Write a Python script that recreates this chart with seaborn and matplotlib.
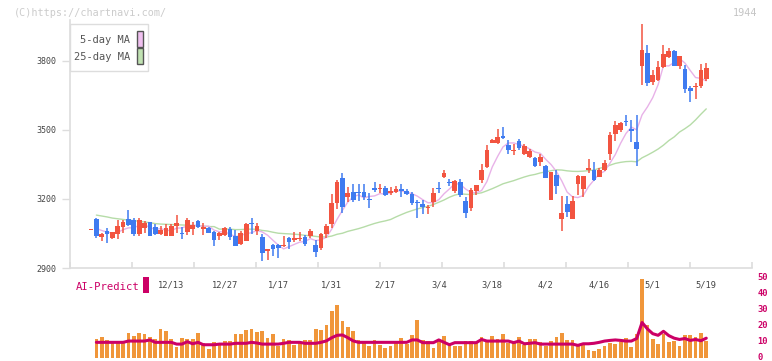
import numpy as np
import pandas as pd
import matplotlib
matplotlib.use("Agg")
import matplotlib.pyplot as plt
import seaborn as sns
from matplotlib.patches import Rectangle

# daily candles (red = close above open)
opens = [3067, 3113, 3036, 3061, 3030, 3046, 3080, 3113, 3109, 3047,
         3074, 3100, 3080, 3048, 3040, 3040, 3083, 3052, 3055, 3070,
         3104, 3070, 3075, 3055, 3041, 3045, 3070, 3039, 3004, 3019,
         3096, 3059, 3036, 2975, 3000, 3001, 2998, 3029, 3020, 3026,
         3036, 3039, 3000, 2988, 3048, 3092, 3181, 3290, 3207, 3230,
         3229, 3229, 3198, 3248, 3244, 3248, 3225, 3232, 3243, 3235,
         3223, 3184, 3180, 3161, 3187, 3248, 3297, 3274, 3235, 3275,
         3191, 3162, 3235, 3283, 3341, 3445, 3445, 3474, 3435, 3410,
         3452, 3394, 3384, 3380, 3362, 3345, 3196, 3304, 3113, 3178,
         3113, 3265, 3245, 3326, 3326, 3297, 3326, 3396, 3484, 3502,
         3540, 3506, 3448, 3776, 3836, 3710, 3718, 3773, 3819, 3845,
         3776, 3766, 3684, 3686, 3691, 3722]
closes = [3069, 3040, 3049, 3046, 3056, 3083, 3100, 3087, 3048, 3109,
          3096, 3040, 3046, 3065, 3075, 3084, 3097, 3050, 3109, 3087,
          3080, 3080, 3054, 3022, 3052, 3075, 3033, 2997, 3052, 3091,
          3093, 3083, 2965, 2981, 2981, 2988, 3000, 3014, 3030, 3030,
          3004, 3061, 2971, 3048, 3084, 3183, 3274, 3166, 3227, 3196,
          3226, 3210, 3196, 3239, 3246, 3216, 3236, 3243, 3233, 3220,
          3184, 3182, 3166, 3165, 3227, 3244, 3313, 3270, 3278, 3217,
          3140, 3239, 3261, 3326, 3413, 3457, 3468, 3467, 3413, 3413,
          3423, 3430, 3409, 3345, 3384, 3293, 3316, 3258, 3140, 3142,
          3191, 3300, 3302, 3335, 3283, 3326, 3356, 3479, 3522, 3531,
          3537, 3494, 3418, 3848, 3703, 3740, 3775, 3830, 3844, 3780,
          3823, 3679, 3668, 3689, 3762, 3770]
highs = [3069, 3117, 3054, 3072, 3058, 3109, 3109, 3152, 3116, 3117,
         3104, 3100, 3093, 3083, 3093, 3093, 3130, 3078, 3119, 3099,
         3108, 3097, 3078, 3062, 3058, 3080, 3077, 3064, 3062, 3097,
         3119, 3094, 3046, 2981, 3003, 3004, 3040, 3033, 3055, 3055,
         3042, 3070, 3022, 3051, 3090, 3222, 3283, 3312, 3253, 3264,
         3264, 3264, 3225, 3274, 3265, 3258, 3251, 3258, 3265, 3243,
         3232, 3196, 3194, 3174, 3247, 3274, 3325, 3287, 3283, 3287,
         3210, 3246, 3261, 3351, 3433, 3461, 3504, 3513, 3457, 3438,
         3461, 3439, 3416, 3384, 3394, 3348, 3316, 3326, 3212, 3213,
         3213, 3304, 3302, 3372, 3361, 3333, 3371, 3490, 3540, 3534,
         3565, 3544, 3565, 3960, 3871, 3760, 3800, 3871, 3855, 3848,
         3823, 3783, 3690, 3702, 3787, 3789]
lows = [3067, 3032, 3019, 3010, 3025, 3027, 3050, 3084, 3040, 3040,
        3051, 3038, 3043, 3043, 3037, 3040, 3051, 3028, 3043, 3043,
        3076, 3043, 3050, 2997, 3022, 3041, 3022, 2997, 3000, 3016,
        3048, 3043, 2932, 2935, 2953, 2945, 2993, 2981, 3012, 3017,
        2997, 3032, 2949, 2978, 3029, 3073, 3155, 3138, 3186, 3188,
        3191, 3196, 3162, 3229, 3225, 3213, 3219, 3227, 3210, 3216,
        3173, 3116, 3133, 3133, 3167, 3225, 3290, 3258, 3225, 3207,
        3119, 3148, 3217, 3271, 3336, 3442, 3438, 3461, 3394, 3393,
        3414, 3390, 3377, 3341, 3343, 3290, 3196, 3222, 3061, 3123,
        3113, 3217, 3207, 3313, 3280, 3294, 3321, 3370, 3453, 3491,
        3518, 3448, 3343, 3694, 3692, 3697, 3715, 3768, 3811, 3777,
        3767, 3660, 3620, 3634, 3682, 3712]

# moving averages before enough history exists
ma5_head = [3072, 3063, 3056]
ma25_head = [3130, 3126, 3122, 3117, 3114, 3111, 3108, 3106, 3103, 3100,
             3097, 3093, 3091, 3090, 3089, 3088, 3087, 3086, 3085, 3084,
             3082, 3080, 3080]

# AI-Predict panel
ai_bars = [np.nan, 11.7, 12.8, 11.1, 10.4, 10.4, 10.6, 15.4, 13.8, 15.2,
           14.8, 12.8, 11.7, 17.9, 16.7, 11.9, 6.9, 12.3, 11.9, 11.5,
           15.4, 8.9, 5.3, 9.6, 9.4, 10.4, 10.4, 14.8, 14.8, 17.3,
           17.9, 16.0, 16.7, 12.1, 14.8, 7.5, 11.5, 11.1, 7.9, 9.4,
           11.3, 11.1, 17.9, 17.3, 20.4, 29.2, 32.9, 23.1, 19.4, 16.7,
           11.3, 9.6, 7.5, 11.1, 7.9, 6.3, 7.5, 9.6, 12.5, 8.4,
           14.2, 23.6, 11.1, 10.4, 6.3, 10.6, 13.6, 9.4, 7.5, 7.5,
           10.4, 10.4, 8.9, 12.8, 11.3, 13.6, 11.5, 14.8, 9.4, 9.4,
           12.8, 7.9, 11.5, 11.5, 9.6, 7.5, 10.4, 12.8, 15.6, 11.1,
           11.1, 7.5, 8.5, 4.8, 4.2, 5.3, 7.5, 8.9, 8.5, 10.0,
           12.1, 6.9, 14.8, 49.2, 20.4, 11.5, 8.5, 14.8, 10.0, 10.4,
           7.5, 14.2, 14.2, 12.8, 15.2, 10.4]
ai_line = [np.nan, 9.6, 9.6, 9.6, 9.6, 9.6, 9.6, 10.4, 10.4, 10.4,
           10.4, 11.1, 9.6, 9.6, 9.6, 9.6, 8.5, 8.5, 10.0, 8.7,
           9.6, 8.1, 8.1, 8.1, 8.5, 8.5, 8.5, 9.0, 9.0, 9.0,
           9.6, 9.2, 8.5, 8.5, 8.5, 8.5, 9.0, 9.6, 9.6, 9.6,
           9.0, 9.0, 9.0, 9.6, 10.5, 12.5, 14.0, 14.2, 12.5, 10.5,
           9.6, 9.6, 9.6, 9.6, 9.6, 9.6, 9.6, 9.6, 9.6, 9.6,
           11.1, 11.1, 9.4, 9.4, 9.4, 11.1, 9.6, 8.1, 9.4, 9.4,
           9.4, 9.4, 9.4, 11.4, 10.4, 10.4, 10.4, 10.4, 10.4, 9.4,
           10.4, 8.7, 9.0, 9.4, 8.5, 8.5, 8.5, 8.5, 8.5, 8.5,
           8.5, 7.7, 8.7, 8.7, 9.0, 9.6, 10.4, 10.8, 11.1, 10.8,
           10.4, 10.4, 12.0, 22.0, 18.0, 15.0, 14.0, 16.5, 13.8, 12.2,
           11.4, 12.0, 10.8, 11.4, 10.6, 12.2]

date_labels = ["12/13", "12/27", "1/17", "1/31", "2/17", "3/4",
               "3/18", "4/2", "4/16", "5/1", "5/19"]
date_label_idx = [15, 25, 35, 45, 55, 65, 75, 85, 95, 105, 115]
price_ticks = [2900, 3200, 3500, 3800]
ai_ticks = [0, 10, 20, 30, 40, 50]

RED = "#f25440"
BLUE = "#3f7bf0"
PINK = "#e8b2e8"
GREEN = "#b6dca8"
CRIMSON = "#cc0066"
ORANGE = "#f0963a"

sns.set_theme(style="white")
plt.rcParams["font.family"] = ["DejaVu Sans Mono", "DejaVu Sans"]

W, H = 772, 361


def rect(x0, y0, x1, y1):
    # pixel box (top-left origin) -> figure fraction rect
    return [x0 / W, 1 - y1 / H, (x1 - x0) / W, (y1 - y0) / H]


fig = plt.figure(figsize=(W / 100, H / 100), dpi=100)
axv = fig.add_axes(rect(70, 277.7, 752, 357.7))
ax = fig.add_axes(rect(70, 20, 752, 268))
axv.patch.set_visible(False)
ax.patch.set_visible(False)

idx = np.arange(len(opens))
o = np.array(opens, float)
c = np.array(closes, float)
hi = np.array(highs, float)
lo = np.array(lows, float)
up = c >= o
cols = np.where(up, RED, BLUE)

# candles
ax.vlines(idx, lo, hi, colors=cols, linewidth=1.1, zorder=3)
diff = np.abs(c - o)
mid = (c + o) / 2
body_h = np.maximum(diff, 4)
body_bot = np.where(diff < 4, mid - 2, np.minimum(o, c))
ax.bar(idx, body_h, bottom=body_bot, width=0.88, color=cols, linewidth=0, zorder=4)

# moving averages
ma5 = pd.Series(c).rolling(5).mean()
ma5.iloc[1:4] = ma5_head
ma25 = pd.Series(c).rolling(25).mean()
ma25.iloc[1:24] = ma25_head
ma = pd.DataFrame({"i": idx, "ma5": ma5, "ma25": ma25})
sns.lineplot(data=ma, x="i", y="ma25", color=GREEN, linewidth=1, ax=ax, zorder=2)
sns.lineplot(data=ma, x="i", y="ma5", color=PINK, linewidth=1, ax=ax, zorder=2)

xl, xr = -3.93, 123.55
ax.set_xlim(xl, xr)
ax.set_ylim(2900, 3978)
ax.set_xlabel("")
ax.set_ylabel("")
for s in ["top", "right"]:
    ax.spines[s].set_visible(False)
for s in ["left", "bottom"]:
    ax.spines[s].set_color("#dddddd")
    ax.spines[s].set_linewidth(1.2)
ax.set_yticks(price_ticks)
ax.set_yticklabels([str(t) for t in price_ticks])
ax.tick_params(axis="y", direction="out", length=6, width=1, color="#dddddd",
               labelsize=6, labelcolor="#444444", pad=3.5, left=True)
ax.set_xticks(date_label_idx)
ax.set_xticklabels(date_labels)
ax.tick_params(axis="x", length=0, labelsize=6.3, labelcolor="#444444", pad=9)
ax.set_xticks(np.linspace(xl, xr, 12), minor=True)
ax.tick_params(axis="x", which="minor", direction="in", length=4, width=1.2,
               color="#dddddd", bottom=True)
ax.grid(False)

# AI-Predict panel
bars = pd.DataFrame({"i": idx, "bar": ai_bars, "line": ai_line})
axv.bar(bars["i"], bars["bar"], width=0.7, color=ORANGE, linewidth=0, zorder=2)
sns.lineplot(data=bars, x="i", y="line", color=CRIMSON, linewidth=2.2, ax=axv, zorder=3)
axv.set_xlim(xl, xr)
axv.set_ylim(0, 50)
axv.set_xlabel("")
axv.set_ylabel("")
for s in axv.spines.values():
    s.set_visible(False)
axv.set_xticks([])
axv.yaxis.tick_right()
axv.set_yticks(ai_ticks)
axv.set_yticklabels([str(t) for t in ai_ticks])
axv.tick_params(axis="y", length=0, labelsize=6.3, labelcolor=CRIMSON, pad=4)
for lab in axv.get_yticklabels():
    lab.set_fontweight("bold")
    lab.set_verticalalignment("center")
axv.grid(False)


def ftext(x, y, s, **kw):
    fig.text(x / W, 1 - y / H, s, **kw)


def fbox(x0, y0, x1, y1, **kw):
    fig.add_artist(Rectangle((x0 / W, 1 - y1 / H), (x1 - x0) / W, (y1 - y0) / H,
                             transform=fig.transFigure, **kw))


# header
ftext(14, 12.5, "(C)https://chartnavi.com/", fontsize=7.3, color="#cccccc", va="center")
ftext(757, 12.5, "1944", fontsize=7.3, color="#c4c4c4", va="center", ha="right")

# legend
fbox(70, 24, 148, 71, facecolor="white", edgecolor="#dddddd", linewidth=1, zorder=5)
ftext(130, 40, "5-day MA", fontsize=7.5, color="#555555", va="center", ha="right", zorder=6)
ftext(130, 57, "25-day MA", fontsize=7.5, color="#555555", va="center", ha="right", zorder=6)
fbox(136.5, 31, 142.5, 46.5, facecolor="#f0c0f0", edgecolor="#555555", linewidth=1, zorder=6)
fbox(136.5, 48.5, 142.5, 63.5, facecolor="#c0e2b2", edgecolor="#555555", linewidth=1, zorder=6)

# AI-Predict label
ftext(76, 286.5, "AI-Predict", fontsize=7.6, color=CRIMSON, va="center")
fbox(142.5, 277, 148.5, 292.5, facecolor=CRIMSON, edgecolor="none")

fig.savefig("out.png", dpi=100)
